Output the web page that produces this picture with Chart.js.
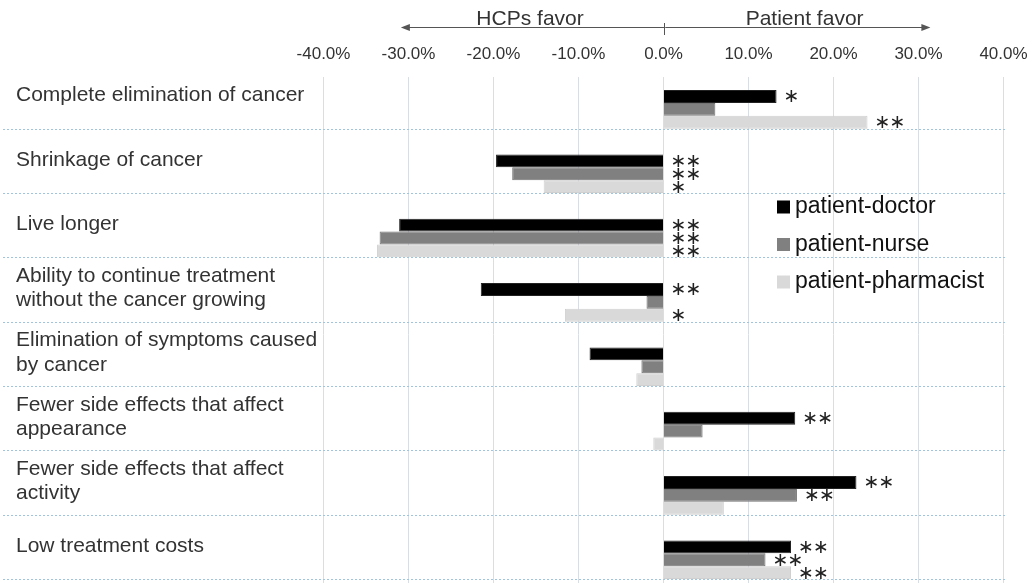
<!DOCTYPE html>
<html>
<head>
<meta charset="utf-8">
<script src="https://cdn.jsdelivr.net/npm/chart.js@4/dist/chart.umd.min.js"></script>
<style>
  html, body { margin: 0; padding: 0; background: #fff; overflow: hidden; }
  /* canvas runs a little past the window so the last row sits at the bottom edge */
  #wrap { width: 1034px; height: 607px; position: relative; }
</style>
</head>
<body>
<div id="wrap"><canvas id="chart"></canvas></div>
<script>
// chart data (percent difference in importance)
const categories = [
  'Complete elimination of cancer',
  'Shrinkage of cancer',
  'Live longer',
  ['Ability to continue treatment', 'without the cancer growing'],
  ['Elimination of symptoms caused', 'by cancer'],
  ['Fewer side effects that affect', 'appearance'],
  ['Fewer side effects that affect', 'activity'],
  'Low treatment costs'
];
const seriesNames = ['patient-doctor', 'patient-nurse', 'patient-pharmacist'];
const doctorValues = [13.3, -19.7, -31.1, -21.5, -8.7, 15.5, 22.7, 15.0];
const nurseValues = [6.1, -17.8, -33.4, -2.0, -2.6, 4.6, 15.7, 12.0];
const pharmacistValues = [24.0, -14.1, -33.7, -11.6, -3.2, -1.2, 7.1, 15.0];
// significance marks per bar
const doctorSig = ['*', '**', '**', '**', '', '**', '**', '**'];
const nurseSig = ['', '**', '**', '', '', '', '**', '**'];
const pharmacistSig = ['**', '*', '**', '*', '', '', '', '**'];
const xTicks = [-40, -30, -20, -10, 0, 10, 20, 30, 40];

const FONT = "'Liberation Sans', Arial, sans-serif";
const TEXT = '#333333';

// dotted row separators, stars, arrows and legend
const extras = {
  id: 'extras',
  beforeDatasetsDraw(chart) {
    const { ctx } = chart;
    const y = chart.scales.y;
    const band = (y.getPixelForValue(1) - y.getPixelForValue(0));
    ctx.save();
    ctx.strokeStyle = '#9fc4db';
    ctx.lineWidth = 1;
    ctx.setLineDash([2, 2]);
    categories.forEach((c, i) => {
      const py = Math.round(y.getPixelForValue(i) + band * 0.3) + 0.5;
      ctx.beginPath();
      ctx.moveTo(3, py);
      ctx.lineTo(1005, py);
      ctx.stroke();
    });
    ctx.restore();
  },
  afterDraw(chart) {
    const { ctx } = chart;
    const x = chart.scales.x;
    const sigs = [doctorSig, nurseSig, pharmacistSig];

    // stars
    ctx.save();
    ctx.fillStyle = '#222';
    ctx.font = "19px 'DejaVu Sans', sans-serif";
    ctx.textAlign = 'left';
    ctx.textBaseline = 'middle';
    chart.data.datasets.forEach((ds, di) => {
      const meta = chart.getDatasetMeta(di);
      meta.data.forEach((bar, i) => {
        const s = sigs[di][i];
        if (!s) return;
        const x0 = x.getPixelForValue(Math.max(0, ds.data[i])) + 7;
        for (let k = 0; k < s.length; k++) {
          ctx.fillText('\u2217', x0 + k * 15, bar.y + 1);
        }
      });
    });
    ctx.restore();

    // direction arrows on top
    const zero = x.getPixelForValue(0);
    const left = x.getPixelForValue(-30.9);
    const right = x.getPixelForValue(31.4);
    const ay = 27.5;
    ctx.save();
    ctx.strokeStyle = '#555';
    ctx.fillStyle = '#555';
    ctx.lineWidth = 1;
    ctx.beginPath();
    ctx.moveTo(left + 4, ay);
    ctx.lineTo(right - 4, ay);
    ctx.moveTo(Math.round(zero) + 0.5, 23);
    ctx.lineTo(Math.round(zero) + 0.5, 35);
    ctx.stroke();
    ctx.beginPath();
    ctx.moveTo(left, ay);
    ctx.lineTo(left + 9, ay - 3.5);
    ctx.lineTo(left + 9, ay + 3.5);
    ctx.closePath();
    ctx.fill();
    ctx.beginPath();
    ctx.moveTo(right, ay);
    ctx.lineTo(right - 9, ay - 3.5);
    ctx.lineTo(right - 9, ay + 3.5);
    ctx.closePath();
    ctx.fill();
    ctx.fillStyle = TEXT;
    ctx.font = '21px ' + FONT;
    ctx.textAlign = 'center';
    ctx.textBaseline = 'alphabetic';
    ctx.fillText('HCPs favor', x.getPixelForValue(-15.7), 25);
    ctx.fillText('Patient favor', x.getPixelForValue(16.6), 25);
    ctx.restore();

    // legend inside plot
    ctx.save();
    ctx.font = '23px ' + FONT;
    ctx.textBaseline = 'middle';
    ctx.textAlign = 'left';
    chart.data.datasets.forEach((ds, di) => {
      const ly = 207 + di * 37.5;
      ctx.fillStyle = ds.backgroundColor;
      ctx.fillRect(777, ly - 6.5, 13, 13);
      ctx.fillStyle = '#111';
      ctx.fillText(ds.label, 795, ly);
    });
    ctx.restore();
  }
};

new Chart(document.getElementById('chart'), {
  type: 'bar',
  data: {
    labels: categories,
    datasets: [
      { label: seriesNames[0], data: doctorValues, backgroundColor: '#000000', borderColor: '#222', borderWidth: 1 },
      { label: seriesNames[1], data: nurseValues, backgroundColor: '#808080', borderColor: '#747474', borderWidth: 1 },
      { label: seriesNames[2], data: pharmacistValues, backgroundColor: '#d9d9d9', borderColor: '#d0d0d0', borderWidth: 1 }
    ]
  },
  options: {
    indexAxis: 'y',
    responsive: true,
    maintainAspectRatio: false,
    animation: false,
    events: [],
    categoryPercentage: 0.6,
    barPercentage: 1.0,
    layout: { padding: { left: 16, top: 40, right: 30.5, bottom: 0 } },
    plugins: {
      legend: { display: false },
      tooltip: { enabled: false }
    },
    scales: {
      x: {
        position: 'top',
        min: -40,
        max: 40,
        afterFit: (s) => { s.height = 37.2; },
        afterBuildTicks: (s) => { s.ticks = xTicks.map(v => ({ value: v })); },
        ticks: {
          padding: 0,
          color: TEXT,
          font: { family: FONT, size: 17, lineHeight: 46 / 17 },
          callback: (v) => v.toFixed(1) + '%'
        },
        grid: { color: '#d9dde4', drawTicks: false },
        border: { display: false }
      },
      y: {
        afterFit: (s) => { s.width = 307.5; },
        ticks: {
          crossAlign: 'far',
          // first row label sits a bit lower in the original
          labelOffset: (c) => (c.index === 0 ? -5 : -14),
          color: TEXT,
          font: { family: FONT, size: 21, lineHeight: 1.15 }
        },
        grid: { display: false },
        border: { display: false }
      }
    }
  },
  plugins: [extras]
});
</script>
</body>
</html>
